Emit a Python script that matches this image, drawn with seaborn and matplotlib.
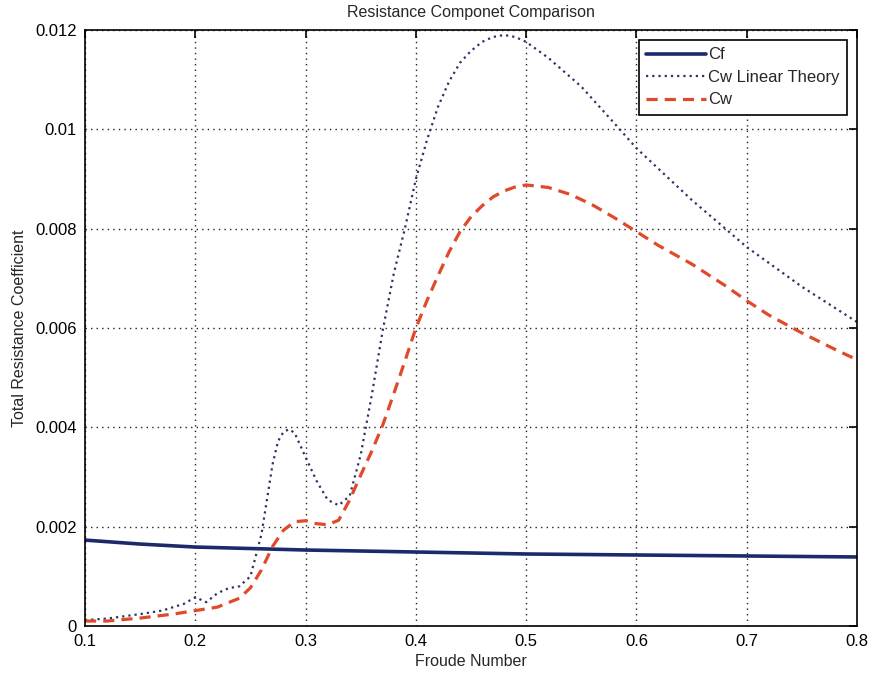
import matplotlib
matplotlib.use("Agg")
import matplotlib.pyplot as plt
import seaborn as sns
import pandas as pd

# ---- data ----
cf_fn = [0.10, 0.15, 0.20, 0.30, 0.40, 0.50, 0.60, 0.70, 0.80]
cf_val = [0.00173, 0.00165, 0.00159, 0.00153, 0.00149, 0.00145, 0.00143, 0.00141, 0.00139]

lin_fn = [0.10, 0.12, 0.15, 0.17, 0.19, 0.20, 0.21, 0.22, 0.23, 0.24, 0.25, 0.26, 0.27,
          0.275, 0.28, 0.285, 0.29, 0.30, 0.31, 0.32, 0.33, 0.34, 0.35, 0.36, 0.37,
          0.38, 0.39, 0.40, 0.41, 0.42, 0.43, 0.44, 0.45, 0.46, 0.47, 0.48, 0.49, 0.50,
          0.52, 0.55, 0.58, 0.60, 0.65, 0.70, 0.75, 0.80]
lin_val = [0.00012, 0.00015, 0.00024, 0.00031, 0.00045, 0.00058, 0.00048, 0.00066, 0.00076,
           0.00080, 0.00100, 0.00185, 0.00325, 0.00372, 0.00391, 0.00396, 0.00389, 0.00340,
           0.00292, 0.00254, 0.00243, 0.00262, 0.00345, 0.00465, 0.00596, 0.00710, 0.00800,
           0.00900, 0.00978, 0.01045, 0.01096, 0.01134, 0.01158, 0.01176, 0.01186, 0.01190,
           0.01186, 0.01176, 0.01144, 0.01086, 0.01012, 0.00962, 0.00858, 0.00763, 0.00683,
           0.00612]

cw_fn = [0.10, 0.12, 0.15, 0.18, 0.20, 0.22, 0.24, 0.25, 0.26, 0.27, 0.28, 0.29, 0.30,
         0.31, 0.32, 0.33, 0.34, 0.35, 0.36, 0.37, 0.38, 0.39, 0.40, 0.41, 0.42, 0.43,
         0.44, 0.45, 0.46, 0.47, 0.48, 0.49, 0.50, 0.52, 0.54, 0.56, 0.58, 0.60, 0.62,
         0.65, 0.68, 0.70, 0.72, 0.75, 0.78, 0.80]
cw_val = [0.00010, 0.00010, 0.00016, 0.00024, 0.00031, 0.00038, 0.00056, 0.00077, 0.00113,
          0.00160, 0.00193, 0.00210, 0.00212, 0.00206, 0.00204, 0.00213, 0.00254, 0.00304,
          0.00352, 0.00405, 0.00468, 0.00533, 0.00600, 0.00655, 0.00705, 0.00753, 0.00794,
          0.00824, 0.00846, 0.00864, 0.00876, 0.00884, 0.00888, 0.00883, 0.00869, 0.00848,
          0.00822, 0.00794, 0.00766, 0.00729, 0.00686, 0.00655, 0.00626, 0.00590, 0.00557,
          0.00536]

x_ticks = [0.1, 0.2, 0.3, 0.4, 0.5, 0.6, 0.7, 0.8]
x_tick_labels = ["0.1", "0.2", "0.3", "0.4", "0.5", "0.6", "0.7", "0.8"]
y_ticks = [0, 0.002, 0.004, 0.006, 0.008, 0.010, 0.012]
y_tick_labels = ["0", "0.002", "0.004", "0.006", "0.008", "0.01", "0.012"]

sns.set_style("white")
plt.rcParams["font.family"] = ["Liberation Sans", "DejaVu Sans"]

fig = plt.figure(figsize=(8.71, 6.74), dpi=100)
ax = fig.add_axes([0.0976, 0.0712, 0.8864, 0.8843])

df_cf = pd.DataFrame({"Froude": cf_fn, "val": cf_val})
df_lin = pd.DataFrame({"Froude": lin_fn, "val": lin_val})
df_cw = pd.DataFrame({"Froude": cw_fn, "val": cw_val})

sns.lineplot(data=df_cf, x="Froude", y="val", ax=ax, color="#1b2a6b", linewidth=2.6,
             linestyle="-", label="Cf")
sns.lineplot(data=df_lin, x="Froude", y="val", ax=ax, color="#2a3566", linewidth=1.6,
             linestyle=(0, (1, 1.8)), label="Cw Linear Theory")
sns.lineplot(data=df_cw, x="Froude", y="val", ax=ax, color="#e0492a", linewidth=2.3,
             linestyle=(0, (3.5, 2.2)), label="Cw")

ax.set_xlim(0.1, 0.8)
ax.set_ylim(0, 0.012)
ax.set_xticks(x_ticks)
ax.set_xticklabels(x_tick_labels)
ax.set_yticks(y_ticks)
ax.set_yticklabels(y_tick_labels)
ax.tick_params(direction="in", length=6, width=1.2, top=True, right=True,
               labelsize=12, colors="black", pad=6)
ax.grid(True, color="#222222", linestyle=(0, (1, 3)), linewidth=1.0)
for s in ax.spines.values():
    s.set_color("black")
    s.set_linewidth(1.2)

ax.set_title("Resistance Componet Comparison", fontsize=11.5, pad=9)
ax.set_xlabel("Froude Number", fontsize=11.5, labelpad=3)
ax.set_ylabel("Total Resistance Coefficient", fontsize=11.5, labelpad=6)

leg = ax.legend(loc="upper right", fontsize=12, frameon=True, fancybox=False,
                handlelength=3.6, handletextpad=0.1, borderpad=0.45, labelspacing=0.45,
                borderaxespad=0.6)
leg.get_frame().set_edgecolor("black")
leg.get_frame().set_linewidth(1.2)
leg.get_frame().set_alpha(1)

fig.savefig("out.png", dpi=100)
